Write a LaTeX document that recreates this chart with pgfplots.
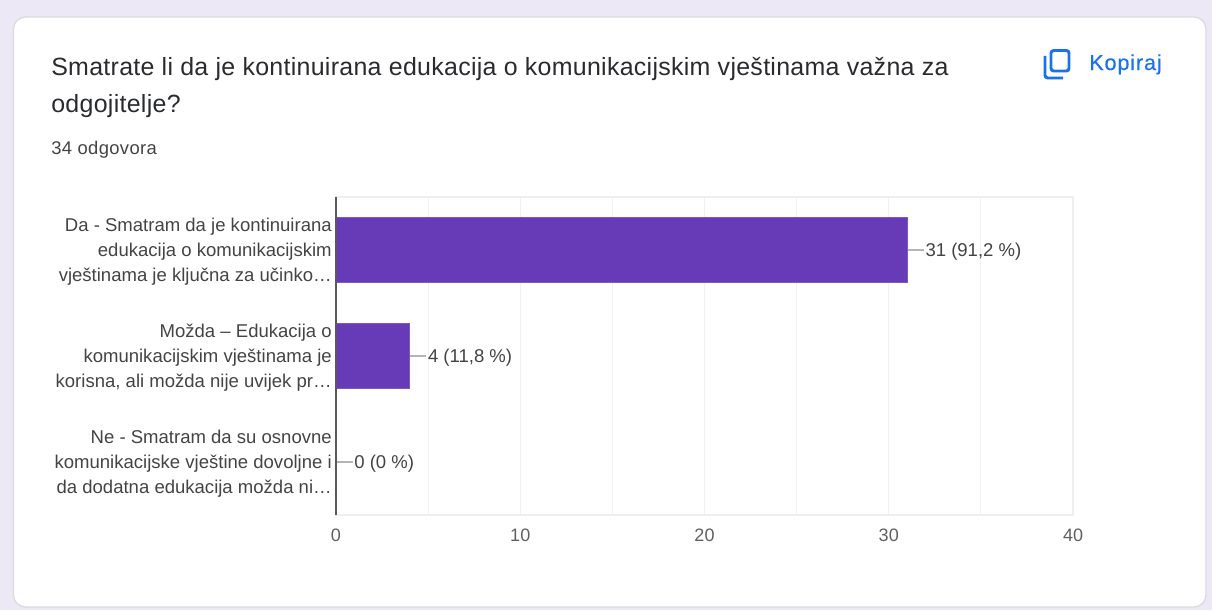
\documentclass[border=0pt]{standalone}
\usepackage{fontspec}
\setmainfont{Liberation Sans}
\usepackage{pgfplots}
\pgfplotsset{compat=1.18}
\definecolor{pagebg}{HTML}{ECE8F6}
\definecolor{cardline}{HTML}{DCDADF}
\definecolor{barfill}{HTML}{673AB7}
\definecolor{gridc}{HTML}{F1F1F1}
\definecolor{framec}{HTML}{EFEFEF}
\definecolor{leader}{HTML}{B5B5B5}
\definecolor{txt}{HTML}{444444}
\definecolor{titlec}{HTML}{2A2B2E}
\definecolor{blue}{HTML}{1A73E8}
% 1 px = 0.75 pt
\begin{document}
\begin{tikzpicture}[x=0.75pt,y=-0.75pt]
\fill[pagebg] (0,0) rectangle (1212,610);
\draw[cardline, fill=white, line width=1pt, rounded corners=9pt] (13.5,17) rectangle (1206,607);
% heading
\node[anchor=base west, inner sep=0, text=titlec, font=\fontsize{18.7}{18}\selectfont\addfontfeatures{LetterSpace=1.2}] at (51,75) {Smatrate li da je kontinuirana edukacija o komunikacijskim vještinama važna za};
\node[anchor=base west, inner sep=0, text=titlec, font=\fontsize{18.7}{18}\selectfont\addfontfeatures{LetterSpace=1.2}] at (51,113) {odgojitelje?};
\node[anchor=base west, inner sep=0, text=txt, font=\fontsize{13.8}{14}\selectfont\addfontfeatures{LetterSpace=2}] at (51,154) {34 odgovora};
% copy icon
\draw[blue, line width=2.2pt, rounded corners=2pt] (1051,50.5) rectangle (1069,71);
\draw[blue, line width=2.2pt, rounded corners=2pt] (1045,56) -- (1045,78) -- (1063,78);
\node[anchor=base west, inner sep=0, text=blue, font=\fontsize{16.2}{16}\selectfont\addfontfeatures{LetterSpace=4,FakeBold=0.3}] at (1089,70) {Kopiraj};
\coordinate (origin) at (336,515);
\begin{axis}[
    at={(origin)}, anchor=south west,
    scale only axis,
    width=552.75pt, height=238.5pt,
    xmin=0, xmax=40, ymin=-0.5, ymax=2.5,
    y dir=reverse,
    xtick={0,10,20,30,40},
    minor xtick={5,15,25,35},
    ytick={0,1,2},
    yticklabels={
        {Da - Smatram da je kontinuirana\\edukacija o komunikacijskim\\vještinama je ključna za učinko…},
        {Možda – Edukacija o\\komunikacijskim vještinama je\\korisna, ali možda nije uvijek pr…},
        {Ne - Smatram da su osnovne\\komunikacijske vještine dovoljne i\\da dodatna edukacija možda ni…}},
    yticklabel style={align=right, text=txt, font=\fontsize{13.9}{18.75}\selectfont, inner sep=0pt, xshift=-3pt, yshift=-1.2pt},
    xticklabel style={text=txt!85, font=\fontsize{13.5}{14}\selectfont, yshift=-7.2pt},
    /pgf/number format/assume math mode=true,
    major tick length=0pt, minor tick length=0pt,
    xmajorgrids, xminorgrids,
    major grid style={gridc, line width=0.9pt},
    minor grid style={gridc, line width=0.9pt},
    axis line style={framec, line width=0.9pt},
    clip=false,
    nodes near coords style={text=txt, font=\fontsize{13.9}{14}\selectfont, anchor=west, inner sep=0pt},
]
\addplot[leader, line width=1.1pt] coordinates {(31,0) (31.9,0)};
\addplot[leader, line width=1.1pt] coordinates {(4,1) (4.9,1)};
\addplot[leader, line width=1.1pt] coordinates {(0,2) (0.9,2)};
\addplot[xbar, bar width=48.75pt, fill=barfill, draw=barfill!85!white, line width=0.5pt,
    point meta=explicit symbolic,
    nodes near coords,
    every node near coord/.append style={xshift=13.5pt, yshift=-1pt}]
    coordinates {(31,0) [31 (91,2 \%)] (4,1) [4 (11,8 \%)] (0,2) [0 (0 \%)]};
\addplot[black!65, line width=1.1pt] coordinates {(0,-0.5) (0,2.5)};
\end{axis}
\end{tikzpicture}
\end{document}
